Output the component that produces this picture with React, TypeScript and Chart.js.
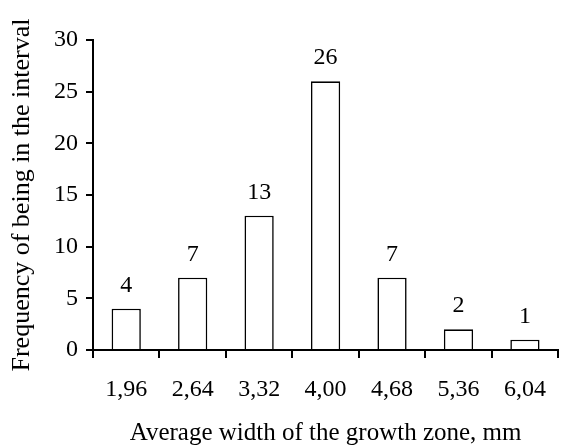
import React, { useEffect, useRef } from "react";
import { Chart, registerables } from "chart.js";

Chart.register(...registerables);

const categories = ["1,96", "2,64", "3,32", "4,00", "4,68", "5,36", "6,04"];
const frequencies = [4, 7, 13, 26, 7, 2, 1];
const yTicks = [0, 5, 10, 15, 20, 25, 30];
const xTitle = "Average width of the growth zone, mm";
const yTitle = "Frequency of being in the interval";

const FONT = "'Liberation Serif', 'Times New Roman', serif";

const valueLabels = {
  id: "valueLabels",
  afterDatasetsDraw(chart: any) {
    const ctx = chart.ctx;
    const meta = chart.getDatasetMeta(0);
    ctx.save();
    ctx.font = `24px ${FONT}`;
    ctx.fillStyle = "#000";
    ctx.textAlign = "center";
    ctx.textBaseline = "alphabetic";
    meta.data.forEach((bar: any, i: number) => {
      ctx.fillText(String(frequencies[i]), bar.x, bar.y - 17);
    });
    ctx.restore();
  },
};

export default function App() {
  const ref = useRef<HTMLCanvasElement>(null);
  useEffect(() => {
    document.body.style.margin = "0";
    const chart = new Chart(ref.current!, {
      type: "bar",
      data: {
        labels: categories,
        datasets: [
          {
            data: frequencies,
            backgroundColor: "#ffffff",
            borderColor: "#000000",
            borderWidth: 1.6,
            barPercentage: 0.44,
            categoryPercentage: 1,
          },
        ],
      },
      options: {
        animation: false,
        responsive: false,
        devicePixelRatio: 1,
        layout: { padding: { top: 40, right: 1, left: 0, bottom: 0 } },
        plugins: { legend: { display: false }, tooltip: { enabled: false } },
        scales: {
          x: {
            grid: {
              offset: true,
              drawOnChartArea: false,
              drawTicks: true,
              tickLength: 8,
              color: "#000",
              lineWidth: 2,
            },
            border: { display: true, color: "#000", width: 2 },
            ticks: {
              color: "#000",
              font: { family: FONT, size: 24 },
              padding: 17,
              maxRotation: 0,
            },
            title: {
              display: true,
              text: xTitle,
              color: "#000",
              font: { family: FONT, size: 25 },
              padding: { top: 0, bottom: -2 },
            },
            afterFit: (s: any) => {
              s.height = 96;
            },
          },
          y: {
            min: 0,
            max: 30,
            afterBuildTicks: (s: any) => {
              s.ticks = yTicks.map((v) => ({ value: v }));
            },
            grid: {
              drawOnChartArea: false,
              drawTicks: true,
              tickLength: 7,
              color: "#000",
              lineWidth: 2,
            },
            border: { display: true, color: "#000", width: 2 },
            ticks: {
              color: "#000",
              font: { family: FONT, size: 24 },
              padding: 8,
            },
            title: {
              display: true,
              text: yTitle,
              color: "#000",
              font: { family: FONT, size: 26 },
              padding: { top: 7, bottom: 0 },
            },
            afterFit: (s: any) => {
              s.width = 93;
            },
          },
        },
      },
      plugins: [valueLabels],
    });
    return () => chart.destroy();
  }, []);
  return (
    <div style={{ position: "absolute", left: 0, top: 0, width: 563, height: 446 }}>
      <canvas ref={ref} width={563} height={446} style={{ width: 563, height: 446 }} />
    </div>
  );
}
